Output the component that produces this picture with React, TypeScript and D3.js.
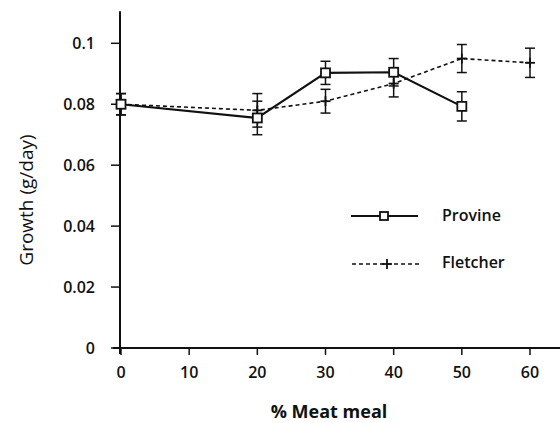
import React, { useEffect, useRef } from "react";
import * as d3 from "d3";

// % meat meal levels
const provineX = [0, 20, 30, 40, 50];
const provineY = [0.08, 0.0755, 0.0903, 0.0905, 0.0793];
const provineErr = [0.0035, 0.0055, 0.0038, 0.0045, 0.0048];

const fletcherX = [0, 20, 30, 40, 50, 60];
const fletcherY = [0.08, 0.078, 0.081, 0.0868, 0.095, 0.0936];
const fletcherErr = [0.0035, 0.0055, 0.0039, 0.0044, 0.0046, 0.0048];

const xTicks = [0, 10, 20, 30, 40, 50, 60];
const yTicks = [0, 0.02, 0.04, 0.06, 0.08, 0.1];
const yTickLabels = ["0", "0.02", "0.04", "0.06", "0.08", "0.1"];

const seriesNames = ["Provine", "Fletcher"];

const FONT = "'Open Sans', 'DejaVu Sans', sans-serif";

const App = () => {
  const svgRef = useRef(null);

  useEffect(() => {
    draw();
  }, []);

  const draw = () => {
    const svg = d3.select(svgRef.current);
    svg.selectAll("*").remove();

    const x = d3.scaleLinear().domain([0, 60]).range([121, 530]);
    const y = d3.scaleLinear().domain([0, 0.1]).range([348, 43.3]);

    const ink = "#111";

    // axes lines
    svg
      .append("line")
      .attr("x1", x(0) - 1)
      .attr("x2", x(0) - 1)
      .attr("y1", y(0.1105))
      .attr("y2", y(0) + 6)
      .attr("stroke", ink)
      .attr("stroke-width", 2);
    svg
      .append("line")
      .attr("x1", x(0) - 8)
      .attr("x2", 560)
      .attr("y1", y(0))
      .attr("y2", y(0))
      .attr("stroke", ink)
      .attr("stroke-width", 2);

    // y ticks
    const yg = svg.append("g");
    yg.selectAll("line")
      .data(yTicks)
      .join("line")
      .attr("x1", x(0) - 10)
      .attr("x2", x(0))
      .attr("y1", (d) => y(d))
      .attr("y2", (d) => y(d))
      .attr("stroke", ink)
      .attr("stroke-width", 1.5);
    yg.selectAll("text")
      .data(yTicks)
      .join("text")
      .attr("x", 95)
      .attr("y", (d) => y(d))
      .attr("dy", "0.35em")
      .attr("text-anchor", "end")
      .attr("font-family", FONT)
      .attr("font-size", 16)
      .attr("font-weight", 600)
      .attr("fill", ink)
      .text((d, i) => yTickLabels[i]);

    // x ticks
    const xg = svg.append("g");
    xg.selectAll("line")
      .data(xTicks)
      .join("line")
      .attr("x1", (d) => x(d))
      .attr("x2", (d) => x(d))
      .attr("y1", y(0))
      .attr("y2", y(0) + 7)
      .attr("stroke", ink)
      .attr("stroke-width", 1.5);
    xg.selectAll("text")
      .data(xTicks)
      .join("text")
      .attr("x", (d) => x(d))
      .attr("y", 378)
      .attr("text-anchor", "middle")
      .attr("font-family", FONT)
      .attr("font-size", 16)
      .attr("font-weight", 600)
      .attr("fill", ink)
      .text((d) => d);

    // axis titles
    svg
      .append("text")
      .attr("transform", "translate(33,200) rotate(-90)")
      .attr("text-anchor", "middle")
      .attr("font-family", FONT)
      .attr("font-size", 19)
      .attr("fill", ink)
      .text("Growth (g/day)");
    svg
      .append("text")
      .attr("x", 329)
      .attr("y", 418)
      .attr("text-anchor", "middle")
      .attr("font-family", FONT)
      .attr("font-size", 18)
      .attr("font-weight", 700)
      .attr("fill", ink)
      .text("% Meat meal");

    const provine = provineX.map((v, i) => ({ x: v, y: provineY[i], e: provineErr[i] }));
    const fletcher = fletcherX.map((v, i) => ({ x: v, y: fletcherY[i], e: fletcherErr[i] }));

    const line = d3
      .line()
      .x((d) => x(d.x))
      .y((d) => y(d.y));

    const errorBars = (data) => {
      const g = svg.append("g").attr("stroke", ink).attr("stroke-width", 1.5);
      data.forEach((d) => {
        const cx = x(d.x);
        g.append("line").attr("x1", cx).attr("x2", cx).attr("y1", y(d.y + d.e)).attr("y2", y(d.y - d.e));
        g.append("line").attr("x1", cx - 5).attr("x2", cx + 5).attr("y1", y(d.y + d.e)).attr("y2", y(d.y + d.e));
        g.append("line").attr("x1", cx - 5).attr("x2", cx + 5).attr("y1", y(d.y - d.e)).attr("y2", y(d.y - d.e));
      });
    };

    errorBars(fletcher);
    errorBars(provine);

    // Fletcher: dashed line with plus markers
    svg
      .append("path")
      .datum(fletcher)
      .attr("fill", "none")
      .attr("stroke", ink)
      .attr("stroke-width", 1.6)
      .attr("stroke-dasharray", "4,3")
      .attr("d", line);

    const plus = (g, cx, cy) => {
      g.append("line").attr("x1", cx - 5).attr("x2", cx + 5).attr("y1", cy).attr("y2", cy);
      g.append("line").attr("x1", cx).attr("x2", cx).attr("y1", cy - 5).attr("y2", cy + 5);
    };
    const pg = svg.append("g").attr("stroke", ink).attr("stroke-width", 1.8);
    fletcher.forEach((d) => plus(pg, x(d.x), y(d.y)));

    // Provine: solid line with open squares
    svg
      .append("path")
      .datum(provine)
      .attr("fill", "none")
      .attr("stroke", ink)
      .attr("stroke-width", 2.2)
      .attr("d", line);

    svg
      .append("g")
      .selectAll("rect")
      .data(provine)
      .join("rect")
      .attr("x", (d) => x(d.x) - 4.5)
      .attr("y", (d) => y(d.y) - 4.5)
      .attr("width", 9)
      .attr("height", 9)
      .attr("fill", "#fff")
      .attr("stroke", ink)
      .attr("stroke-width", 1.8);

    // legend
    const lg = svg.append("g");
    lg.append("line")
      .attr("x1", 351)
      .attr("x2", 418)
      .attr("y1", 216)
      .attr("y2", 216)
      .attr("stroke", ink)
      .attr("stroke-width", 2);
    lg.append("rect")
      .attr("x", 380)
      .attr("y", 212)
      .attr("width", 8)
      .attr("height", 8)
      .attr("fill", "#fff")
      .attr("stroke", ink)
      .attr("stroke-width", 1.8);
    lg.append("line")
      .attr("x1", 352)
      .attr("x2", 420)
      .attr("y1", 264)
      .attr("y2", 264)
      .attr("stroke", ink)
      .attr("stroke-width", 1.6)
      .attr("stroke-dasharray", "4,3");
    const lp = lg.append("g").attr("stroke", ink).attr("stroke-width", 1.8);
    plus(lp, 387, 264);

    lg.selectAll("text")
      .data(seriesNames)
      .join("text")
      .attr("x", 442)
      .attr("y", (d, i) => (i === 0 ? 221 : 268))
      .attr("font-family", FONT)
      .attr("font-size", 16)
      .attr("font-weight", 600)
      .attr("fill", ink)
      .text((d) => d);
  };

  return (
    <svg
      ref={svgRef}
      width="560"
      height="423"
      style={{ position: "absolute", left: 0, top: 0, background: "#fff" }}
    ></svg>
  );
};

export default App;
